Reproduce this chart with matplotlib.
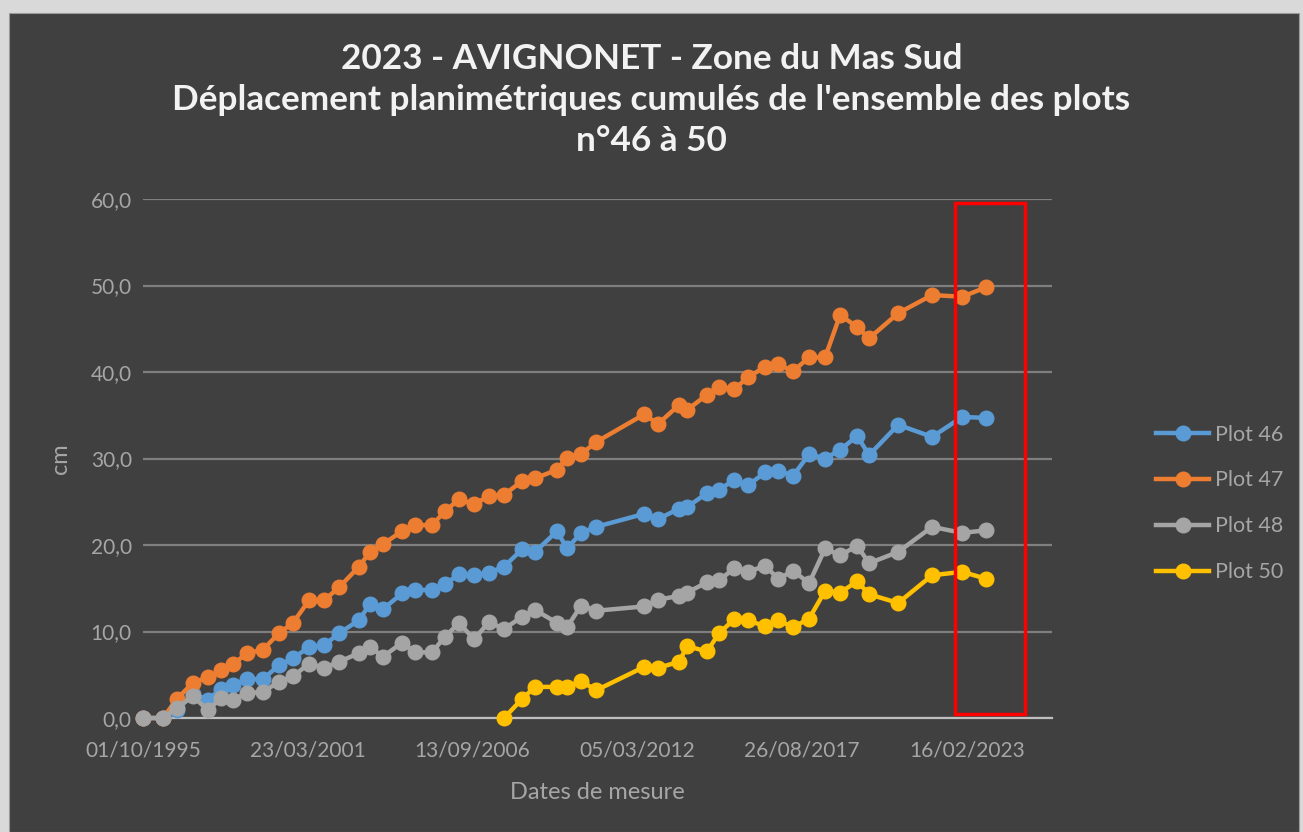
import pandas as pd
import matplotlib
matplotlib.use("Agg")
import matplotlib.pyplot as plt
import matplotlib.dates as mdates
from matplotlib.patches import Rectangle

plt.rcParams['font.family'] = ['Lato', 'DejaVu Sans']

# Dates de mesure
dates = ['1995-10-01', '1996-05-30', '1996-11-17', '1997-05-30', '1997-11-28',
         '1998-05-05', '1998-09-27', '1999-03-16', '1999-09-26', '2000-04-07',
         '2000-09-24', '2001-04-07', '2001-10-06', '2002-04-06', '2002-12-04',
         '2003-04-17', '2003-09-22', '2004-05-09', '2004-10-14', '2005-05-08',
         '2005-10-13', '2006-04-01', '2006-09-30', '2007-03-31', '2007-09-29',
         '2008-05-05', '2008-10-09', '2009-07-03', '2009-11-02', '2010-04-21',
         '2010-10-20', '2012-05-24', '2012-11-10', '2013-07-23', '2013-10-28',
         '2014-06-28', '2014-11-20', '2015-05-21', '2015-11-07', '2016-06-01',
         '2016-11-05', '2017-05-06', '2017-11-17', '2018-05-30', '2018-11-28',
         '2019-06-22', '2019-11-15', '2020-11-01', '2021-12-18', '2022-12-17',
         '2023-10-05']

plot46 = [0, 0, 0.9, 2.8, 2.1, 3.4, 3.8, 4.5, 4.5, 6.1,
          6.9, 8.2, 8.4, 9.8, 11.3, 13.2, 12.6, 14.4, 14.8, 14.8,
          15.5, 16.6, 16.5, 16.8, 17.5, 19.5, 19.2, 21.6, 19.6, 21.4,
          22.1, 23.6, 23.0, 24.2, 24.4, 26.0, 26.4, 27.5, 26.9, 28.4,
          28.6, 28.0, 30.5, 30.0, 31.0, 32.6, 30.4, 33.9, 32.5, 34.8,
          34.7]

plot47 = [0, 0, 2.2, 4.1, 4.7, 5.5, 6.2, 7.5, 7.9, 9.8,
          11.0, 13.6, 13.6, 15.1, 17.5, 19.2, 20.1, 21.6, 22.3, 22.3,
          23.9, 25.3, 24.7, 25.7, 25.8, 27.4, 27.7, 28.7, 30.1, 30.5,
          31.9, 35.1, 34.0, 36.2, 35.6, 37.4, 38.3, 38.0, 39.4, 40.6,
          40.9, 40.1, 41.7, 41.7, 46.6, 45.2, 43.9, 46.8, 48.9, 48.7,
          49.8]

plot48 = [0, 0, 1.2, 2.5, 0.9, 2.3, 2.1, 2.9, 3.0, 4.2,
          4.8, 6.3, 5.8, 6.5, 7.5, 8.2, 7.1, 8.7, 7.6, 7.6,
          9.4, 11.0, 9.1, 11.1, 10.3, 11.7, 12.5, 11.0, 10.5, 13.0,
          12.4, 12.9, 13.7, 14.1, 14.5, 15.7, 15.9, 17.3, 16.9, 17.6,
          16.1, 17.0, 15.6, 19.6, 18.8, 19.9, 17.9, 19.2, 22.1, 21.4,
          21.7]

# Plot 50 : mesuré à partir de 2007 seulement
dates50 = dates[24:]
plot50 = [0, 2.2, 3.6, 3.6, 3.6, 4.3, 3.2, 5.9, 5.8, 6.5,
          8.3, 7.7, 9.8, 11.4, 11.3, 10.6, 11.3, 10.5, 11.5, 14.7,
          14.5, 15.8, 14.3, 13.3, 16.5, 16.9, 16.1]

# Axe des dates : pas de 2000 jours comme dans Excel
x_start = pd.Timestamp('1995-10-01')
tick_dates = [x_start + pd.Timedelta(days=2000 * i) for i in range(6)]
x_end = x_start + pd.Timedelta(days=11030)

fond = '#404040'
gris_txt = '#A6A6A6'

fig = plt.figure(figsize=(13.03, 8.32), dpi=100, facecolor='#D9D9D9')
# zone du graphique (bordure claire en haut / à gauche comme la capture)
fig.add_artist(Rectangle((9 / 1303, 0), 1290 / 1303, 819 / 832,
                         transform=fig.transFigure, facecolor=fond,
                         edgecolor='#9A9A9A', lw=0.8, zorder=0))

ax = fig.add_axes([0.1097, 0.137, 0.6977, 0.6238])
ax.set_facecolor(fond)

series = [
    ('Plot 46', dates, plot46, '#5B9BD5'),
    ('Plot 47', dates, plot47, '#ED7D31'),
    ('Plot 48', dates, plot48, '#A5A5A5'),
    ('Plot 50', dates50, plot50, '#FFC000'),
]
for nom, d, v, c in series:
    ax.plot(pd.to_datetime(d), v, color=c, lw=3.2, marker='o', ms=10.5,
            label=nom, solid_joinstyle='round', zorder=3, clip_on=False)

ax.set_xlim(x_start, x_end)
ax.set_ylim(0, 60)
ax.set_yticks(range(0, 61, 10))
ax.set_yticklabels([f'{v},0' for v in range(0, 61, 10)])
ax.set_xticks(tick_dates)
ax.xaxis.set_major_formatter(mdates.DateFormatter('%d/%m/%Y'))

ax.grid(axis='y', color='#7F7F7F', lw=1.6)
ax.set_axisbelow(True)
for s in ['top', 'right', 'left']:
    ax.spines[s].set_visible(False)
ax.spines['bottom'].set_color('#BFBFBF')
ax.spines['bottom'].set_linewidth(1.6)
ax.tick_params(axis='both', colors=gris_txt, labelsize=15, length=0)
ax.tick_params(axis='x', pad=16)
ax.tick_params(axis='y', pad=8)

ax.set_xlabel('Dates de mesure', color=gris_txt, fontsize=17, labelpad=16)
ax.set_ylabel('cm', color=gris_txt, fontsize=17, labelpad=14)

fig.text(0.5, 1 - 100 / 832,
         "2023 - AVIGNONET - Zone du Mas Sud\n"
         "Déplacement planimétriques cumulés de l'ensemble des plots\n"
         "n°46 à 50",
         color='#F2F2F2', fontsize=25.3, fontweight='bold',
         ha='center', va='center', multialignment='center', linespacing=1.35)

leg = fig.legend(loc='center left', bbox_to_anchor=(0.872, 0.395), frameon=False,
                 fontsize=15.5, labelcolor=gris_txt, handlelength=2.5,
                 labelspacing=1.2, handletextpad=0.25)

# cadre rouge autour des dernières mesures
fig.add_artist(Rectangle((955 / 1303, 1 - 714 / 832), 70 / 1303, 511 / 832,
                         transform=fig.transFigure, fill=False,
                         edgecolor='#FF0000', lw=2.5, zorder=5))

fig.savefig('out.png', dpi=100, facecolor=fig.get_facecolor())
